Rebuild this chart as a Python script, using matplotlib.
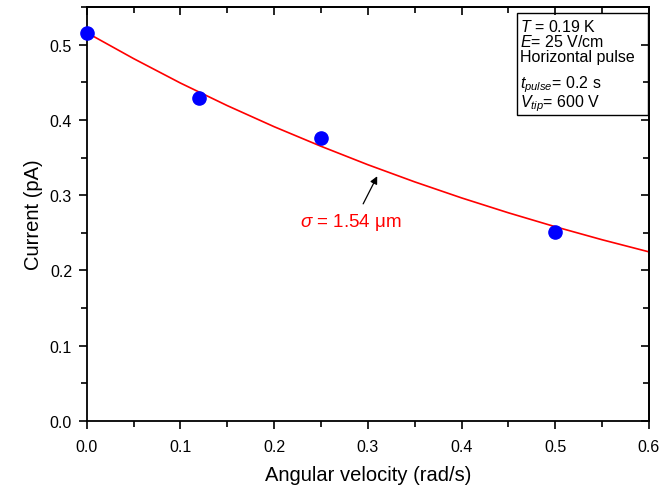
import matplotlib
matplotlib.use("Agg")
import matplotlib.pyplot as plt
from matplotlib.ticker import MultipleLocator, FormatStrFormatter
from matplotlib.patches import Rectangle

plt.rcParams['font.family'] = ['Liberation Sans', 'DejaVu Sans']
plt.rcParams['mathtext.fontset'] = 'custom'
plt.rcParams['mathtext.rm'] = 'Liberation Sans'
plt.rcParams['mathtext.it'] = 'Liberation Sans:italic'
plt.rcParams['mathtext.bf'] = 'Liberation Sans:bold'

# Measured data
omega = [0.0, 0.12, 0.25, 0.5]
current = [0.515, 0.429, 0.376, 0.251]

# Fit curve
fit_x = [0.0, 0.05, 0.10, 0.15, 0.20, 0.25, 0.30, 0.35, 0.40, 0.45, 0.50, 0.55, 0.60]
fit_y = [0.516, 0.4815, 0.449, 0.419, 0.391, 0.365, 0.3405, 0.3177, 0.2964,
         0.2766, 0.2581, 0.2408, 0.2247]

x_ticks = [0.0, 0.1, 0.2, 0.3, 0.4, 0.5, 0.6]
y_ticks = [0.0, 0.1, 0.2, 0.3, 0.4, 0.5]

info_lines = [r"$T$ = 0.19 K", r"$E$= 25 V/cm", "Horizontal pulse",
              r"$t_{pulse}$= 0.2 s", r"$V_{tip}$= 600 V"]
sigma_label = r"$\mathit{\sigma}$ = 1.54 $\mathrm{\mu}$m"

fig = plt.figure(figsize=(6.69, 4.89), dpi=100)
ax = fig.add_axes([0.1296, 0.137, 0.8405, 0.8466])

ax.plot(fit_x, fit_y, color='#ff0000', lw=1.2, zorder=2)
ax.plot(omega, current, 'o', color='#0000ff', ms=9.5, mec='#0000ff', zorder=3,
        clip_on=False)

ax.set_xlim(0, 0.6)
ax.set_ylim(0, 0.55)
ax.set_xticks(x_ticks)
ax.set_yticks(y_ticks)
ax.xaxis.set_minor_locator(MultipleLocator(0.05))
ax.yaxis.set_minor_locator(MultipleLocator(0.05))
ax.xaxis.set_major_formatter(FormatStrFormatter('%.1f'))
ax.yaxis.set_major_formatter(FormatStrFormatter('%.1f'))

for s in ax.spines.values():
    s.set_linewidth(1.3)

ax.tick_params(which='major', direction='out', length=6, width=1.2,
               labelsize=11.5, pad=4.5)
ax.tick_params(axis='x', which='major', pad=7)
ax.tick_params(which='minor', direction='out', length=4, width=1.2)

secx = ax.secondary_xaxis('top')
secx.set_xticks(x_ticks)
secx.xaxis.set_minor_locator(MultipleLocator(0.05))
secx.tick_params(which='major', direction='in', length=6, width=1.2, labeltop=False)
secx.tick_params(which='minor', direction='in', length=4, width=1.2)
secx.spines['top'].set_linewidth(1.3)

secy = ax.secondary_yaxis('right')
secy.set_yticks(y_ticks)
secy.yaxis.set_minor_locator(MultipleLocator(0.05))
secy.tick_params(which='major', direction='in', length=6, width=1.2, labelright=False)
secy.tick_params(which='minor', direction='in', length=4, width=1.2)
secy.spines['right'].set_linewidth(1.3)

ax.set_xlabel("Angular velocity (rad/s)", fontsize=14.5, labelpad=8)
ax.set_ylabel("Current (pA)", fontsize=14.5, labelpad=5)

# Info box
box = Rectangle((0.7658, 0.738), 0.232, 0.2475, transform=ax.transAxes,
                fill=False, edgecolor='black', lw=1.0, zorder=4)
ax.add_patch(box)
line_y = [0.943, 0.906, 0.869, 0.807, 0.760]
for txt, yy in zip(info_lines, line_y):
    ax.text(0.771, yy, txt, transform=ax.transAxes, fontsize=11.5,
            ha='left', va='baseline', zorder=5)

# Annotation
arrow_tip = (0.310, 0.3252)
arrow_tail = (0.295, 0.2885)
ax.annotate('', xy=arrow_tip, xytext=arrow_tail,
            arrowprops=dict(arrowstyle='-|>', color='black', lw=0.9,
                            mutation_scale=11, shrinkA=0, shrinkB=0))
ax.text(0.2275, 0.2596, sigma_label, color='#ff0000', fontsize=13.5,
        ha='left', va='baseline')

fig.savefig("out.png", dpi=100)
